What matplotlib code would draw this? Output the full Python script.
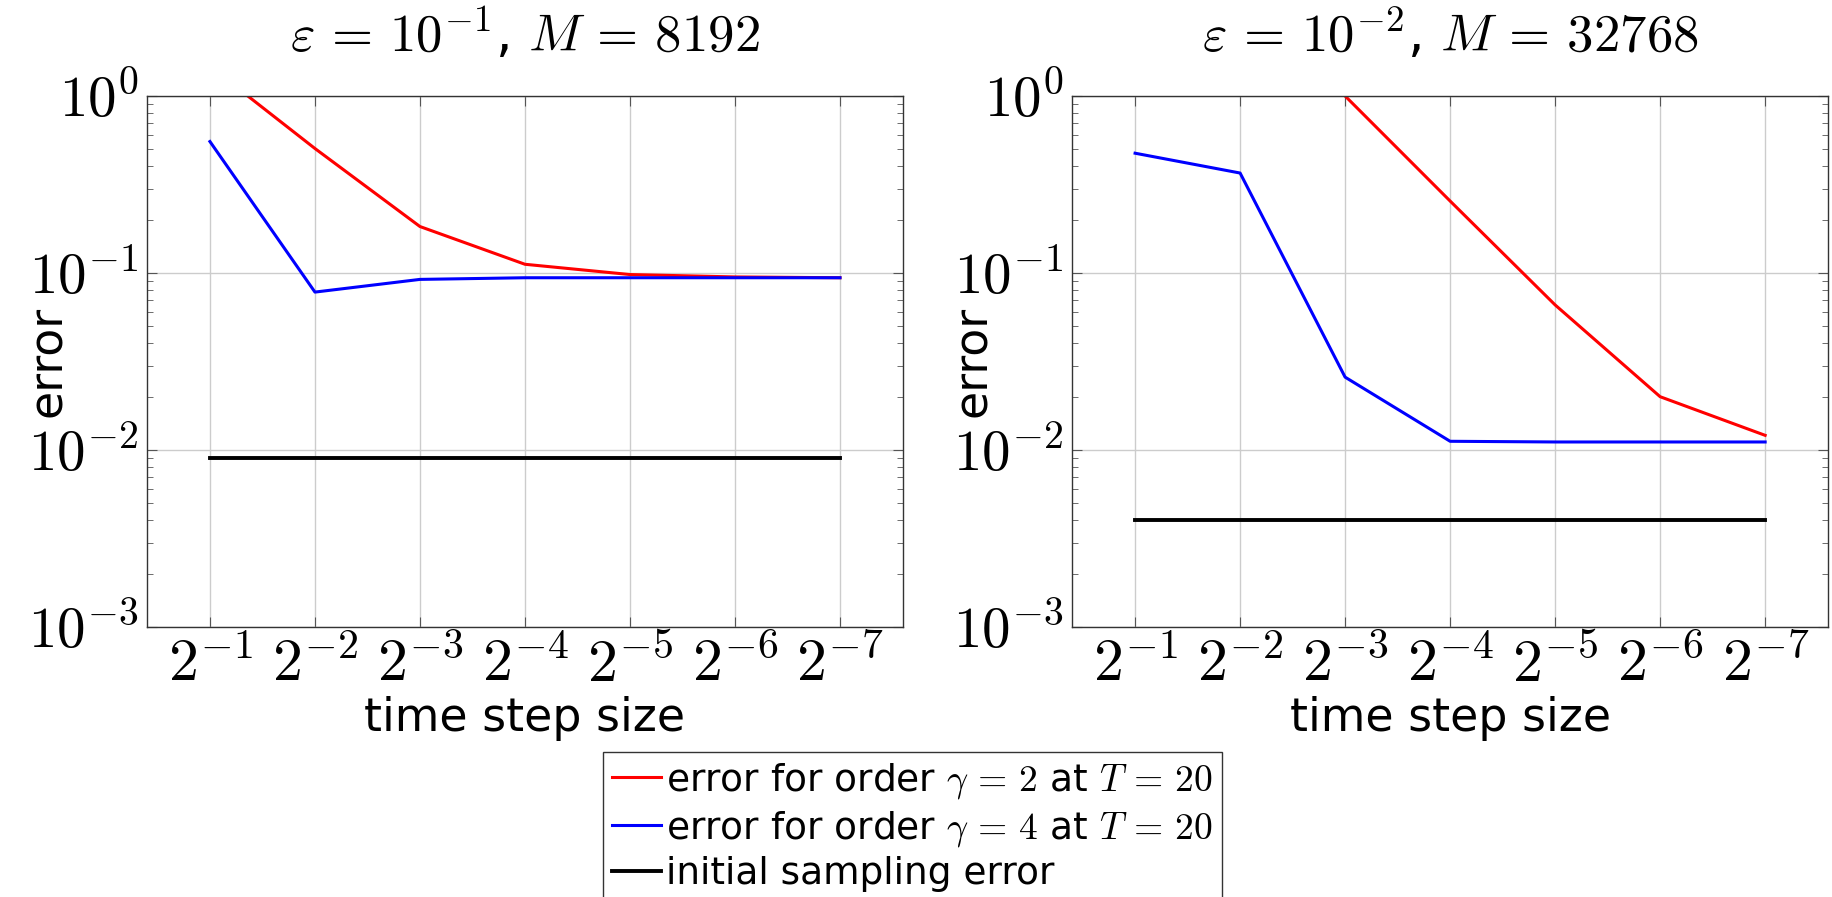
import matplotlib
matplotlib.use('Agg')
import matplotlib.pyplot as plt
import numpy as np
from matplotlib.ticker import LogLocator, NullLocator, NullFormatter

plt.rcParams['mathtext.fontset'] = 'cm'
plt.rcParams['font.family'] = 'DejaVu Sans'

# time step sizes 2^-1 ... 2^-7
dt = [2**-1, 2**-2, 2**-3, 2**-4, 2**-5, 2**-6, 2**-7]
dt_labels = ['$2^{-1}$', '$2^{-2}$', '$2^{-3}$', '$2^{-4}$', '$2^{-5}$', '$2^{-6}$', '$2^{-7}$']

# eps = 1e-1, M = 8192
err_g2_a = [1.47, 0.505, 0.183, 0.112, 0.098, 0.095, 0.094]
err_g4_a = [0.553, 0.078, 0.092, 0.094, 0.094, 0.094, 0.094]
init_a = [0.009] * 7

# eps = 1e-2, M = 32768
err_g2_b = [np.nan, np.nan, 1.0, 0.255, 0.066, 0.020, 0.0121]
err_g4_b = [0.475, 0.367, 0.0258, 0.0112, 0.0111, 0.0111, 0.0111]
init_b = [0.0040] * 7

titles = [r'$\varepsilon\,=\,10^{-1}$, $M\,=\,8192$', r'$\varepsilon\,=\,10^{-2}$, $M\,=\,32768$']
data = [(err_g2_a, err_g4_a, init_a), (err_g2_b, err_g4_b, init_b)]

fig = plt.figure(figsize=(18.32, 8.97), dpi=100)
ax1 = fig.add_axes([0.0802, 0.301, 0.4127, 0.592])
ax2 = fig.add_axes([0.5852, 0.301, 0.4127, 0.592])

handles = []
for ax, (g2, g4, init), title in zip([ax1, ax2], data, titles):
    h1, = ax.plot(dt, g2, color='red', lw=2.2)
    h2, = ax.plot(dt, g4, color='blue', lw=2.2)
    h3, = ax.plot(dt, init, color='black', lw=2.8)
    handles = [h1, h2, h3]

    ax.set_xscale('log', base=2)
    ax.set_yscale('log')
    ax.set_xlim(2**-0.4, 2**-7.6)
    ax.set_ylim(1e-3, 1)
    ax.set_xticks(dt)
    ax.set_xticklabels(dt_labels)
    ax.xaxis.set_minor_locator(NullLocator())
    ax.set_yticks([1e-3, 1e-2, 1e-1, 1])
    ax.set_yticklabels(['$10^{-3}$', '$10^{-2}$', '$10^{-1}$', '$10^{0}$'])
    ax.yaxis.set_minor_locator(LogLocator(base=10, subs=np.arange(2, 10)))
    ax.yaxis.set_minor_formatter(NullFormatter())

    ax.tick_params(which='both', direction='in', top=True, right=True, color='#555555')
    ax.tick_params(which='major', length=7, width=0.8)
    ax.tick_params(axis='x', which='major', labelsize=43, pad=6)
    ax.tick_params(axis='y', which='major', labelsize=41, pad=6)
    ax.tick_params(which='minor', length=4, width=0.6)
    ax.grid(True, which='major', color='#cccccc', lw=1)
    for s in ax.spines.values():
        s.set_linewidth(1.0)
        s.set_color('#333333')

    ax.set_title(title, fontsize=38, pad=32)
    ax.set_xlabel('time step size', fontsize=33)
    ax.xaxis.set_label_coords(0.5, -0.13)
    ax.set_ylabel('error', fontsize=33)
    ax.yaxis.set_label_coords(-0.1, 0.5)

fig.legend(handles,
           [r'error for order $\gamma\,=\,2$ at $T\,=\,20$',
            r'error for order $\gamma\,=\,4$ at $T\,=\,20$',
            'initial sampling error'],
           loc='upper center', bbox_to_anchor=(0.498, 0.162), fontsize=27,
           frameon=True, fancybox=False, edgecolor='#333333', framealpha=1,
           handlelength=1.3, handletextpad=0.15, borderpad=0.25, labelspacing=0.2,
           borderaxespad=0)

fig.savefig('out.png', dpi=100)
